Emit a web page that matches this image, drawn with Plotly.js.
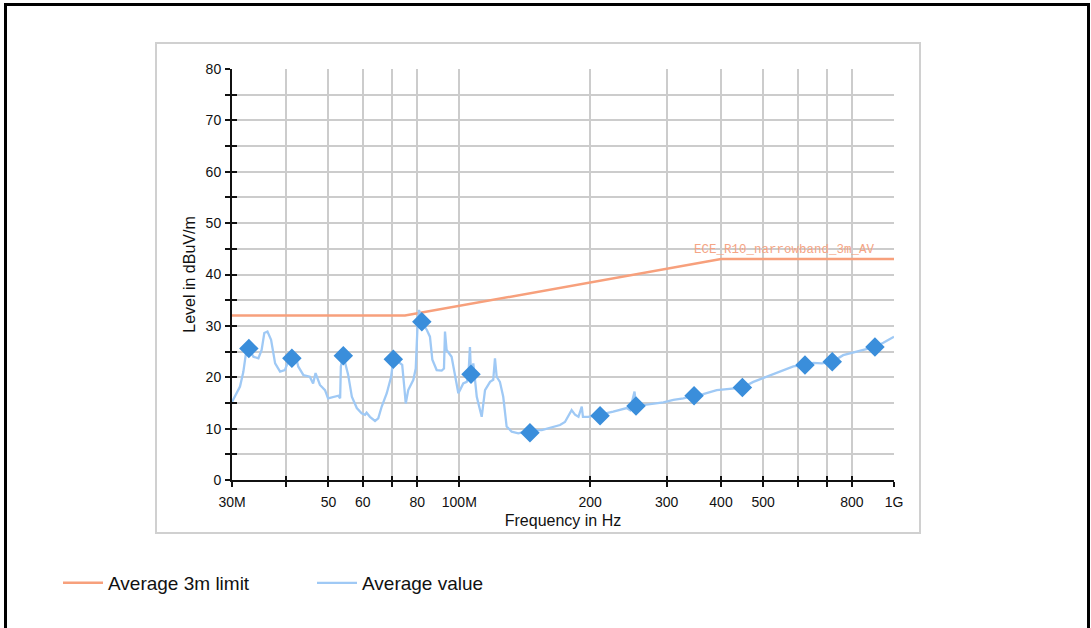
<!DOCTYPE html>
<html>
<head>
<meta charset="utf-8">
<script src="https://cdn.plot.ly/plotly-3.0.1.min.js"></script>
<style>
  html, body { margin: 0; padding: 0; background: #ffffff; overflow: hidden; }
  #chart { width: 1091px; height: 628px; }
</style>
</head>
<body>
<div id="chart"></div>
<script>
// Average value scan: frequency in MHz, level in dBuV/m
const scanFreqMHz = [
  30.0, 30.76, 31.3, 31.85, 32.26, 32.8, 33.6, 34.5, 35.1, 35.6, 36.2, 36.9, 37.7, 38.7, 39.7,
  40.8, 41.2, 41.9, 42.6, 43.8, 45.3, 46.1, 46.7, 47.8, 49.1, 49.9, 51.3, 52.7, 53.2, 53.4,
  54.1, 55.5, 56.6, 58.1, 59.6, 60.7, 61.2, 62.3, 64.0, 65.1, 66.3, 68.1, 69.7, 70.3, 70.5,
  72.4, 73.9, 74.7, 75.3, 76.3, 78.4, 79.4, 80.2, 80.8, 82.0, 84.2, 85.6, 86.7, 88.7, 91.1,
  92.2, 92.7, 93.5, 96.0, 97.7, 99.5, 100.4, 102.1, 104.0, 104.9, 105.8, 106.4, 107.7, 109.7,
  112.6, 114.6, 117.7, 119.7, 120.8, 121.9, 124.0, 126.2, 128.5, 132.0, 136.7, 141.6, 145.4,
  149.3, 154.8, 160.3, 166.0, 170.5, 175.0, 178.0, 181.3, 184.6, 188.0, 191.3, 192.5, 198.0,
  203.3, 210.8, 218.4, 226.0, 234.2, 242.7, 247.0, 253.0, 255.0, 265.0, 279.0, 294.7, 310.8,
  327.7, 346.8, 364.0, 391.0, 419.0, 447.9, 474.7, 509.5, 547.0, 586.8, 624.0, 652.0, 682.0,
  721.0, 764.0, 820.0, 850.0, 904.0, 945.0, 1000.0
];
const scanLevel = [
  15.2, 17.1, 18.2, 21.0, 24.3, 25.6, 24.0, 23.7, 25.3, 28.6, 28.9, 27.3, 22.7, 21.1, 21.4,
  24.0, 23.7, 24.7, 22.1, 20.4, 20.1, 18.8, 20.8, 18.5, 17.5, 15.9, 16.2, 16.4, 15.9, 22.1,
  24.2, 20.5, 16.2, 14.0, 13.0, 12.7, 13.1, 12.3, 11.5, 12.0, 14.3, 16.9, 20.1, 23.0, 23.5,
  23.0, 22.4, 18.2, 14.9, 17.5, 19.5, 21.7, 30.5, 33.1, 30.8, 29.2, 27.9, 23.4, 21.4, 21.3,
  21.7, 28.9, 25.3, 24.0, 20.8, 16.9, 17.5, 18.8, 19.1, 20.1, 25.9, 20.6, 22.7, 16.2,
  12.3, 17.5, 19.1, 19.5, 23.7, 20.1, 19.1, 16.2, 10.4, 9.4, 9.1, 9.4, 9.2,
  9.7, 9.7, 10.1, 10.4, 10.7, 11.3, 12.3, 13.6, 12.7, 12.3, 14.3, 12.3, 12.3,
  12.5, 12.5, 13.0, 13.3, 13.6, 14.0, 13.6, 17.2, 14.4, 14.6, 14.9, 15.1, 15.6,
  15.9, 16.4, 16.7, 17.5, 17.8, 18.0, 19.1, 20.1, 21.1, 22.1, 22.4, 22.8, 22.7,
  23.0, 24.3, 25.0, 25.4, 25.9, 26.7, 27.9
];

// Final average measurements
const finalFreqMHz = [32.8, 41.2, 54.1, 70.5, 82.0, 106.4, 145.4, 210.8, 255.0, 346.8, 447.9, 624.0, 721.0, 904.0];
const finalLevel   = [25.6, 23.7, 24.2, 23.5, 30.8, 20.6, 9.2, 12.5, 14.4, 16.4, 18.0, 22.4, 23.0, 25.9];

// ECE R10 narrowband 3 m average limit (breakpoints)
const limitFreqMHz = [30, 75, 400, 1000];
const limitLevel   = [32, 32, 43, 43];
const limitName = 'ECE_R10_narrowband_3m_AV';

// Axis ticks
const xTickMHz  = [30, 40, 50, 60, 70, 80, 100, 200, 300, 400, 500, 600, 700, 800, 1000];
const xTickText = ['30M', '', '50', '60', '', '80', '100M', '200', '300', '400', '500', '', '', '800', '1G'];
const yTickVals = [0, 5, 10, 15, 20, 25, 30, 35, 40, 45, 50, 55, 60, 65, 70, 75, 80];
const yTickText = ['0', '', '10', '', '20', '', '30', '', '40', '', '50', '', '60', '', '70', '', '80'];

const toHz = f => f * 1e6;
const xRange = [Math.log10(30e6), Math.log10(1e9)];
const yRange = [0, 80];

const sans = 'Liberation Sans, Arial, Helvetica, sans-serif';

const traces = [
  {
    name: 'Average 3m limit',
    x: limitFreqMHz.map(toHz),
    y: limitLevel,
    mode: 'lines',
    line: { color: '#f7a07c', width: 2.5 },
    hoverinfo: 'skip'
  },
  {
    name: 'Average value',
    x: scanFreqMHz.map(toHz),
    y: scanLevel,
    mode: 'lines',
    line: { color: '#9fc9f5', width: 2.3 },
    hoverinfo: 'skip'
  },
  {
    name: 'Final',
    x: finalFreqMHz.map(toHz),
    y: finalLevel,
    xaxis: 'x2',
    yaxis: 'y2',
    mode: 'markers',
    marker: { symbol: 'diamond', size: 15, color: '#3a8edb', line: { width: 0 } },
    showlegend: false,
    hoverinfo: 'skip'
  }
];

const tickX = xTickMHz.map(toHz);

// Paper-space helpers for the frame boxes
const plotL = 232, plotR = 894, plotT = 69, plotB = 480;
const px = v => (v - plotL) / (plotR - plotL);
const py = v => (plotB - v) / (plotB - plotT);

const layout = {
  width: 1091,
  height: 628,
  margin: { l: plotL, r: 1091 - plotR, t: plotT, b: 628 - plotB, pad: 0 },
  paper_bgcolor: '#ffffff',
  plot_bgcolor: '#ffffff',
  showlegend: true,
  xaxis: {
    type: 'log',
    range: xRange,
    tickmode: 'array',
    tickvals: tickX,
    ticktext: xTickText,
    ticks: 'outside',
    ticklen: 5,
    tickwidth: 2,
    tickcolor: '#111111',
    ticklabelstandoff: 3,
    showline: true,
    linecolor: '#111111',
    linewidth: 2,
    showgrid: true,
    gridcolor: '#cccccc',
    gridwidth: 2,
    zeroline: false,
    fixedrange: true,
    tickfont: { family: sans, size: 14, color: '#111111' },
    title: { text: 'Frequency in Hz', font: { family: sans, size: 16, color: '#111111' }, standoff: 6 }
  },
  yaxis: {
    range: yRange,
    tickmode: 'array',
    tickvals: yTickVals,
    ticktext: yTickText,
    ticks: 'outside',
    ticklen: 5,
    tickwidth: 2,
    tickcolor: '#111111',
    ticklabelstandoff: 1,
    showline: true,
    linecolor: '#111111',
    linewidth: 2,
    showgrid: true,
    gridcolor: '#cccccc',
    gridwidth: 2,
    zeroline: false,
    fixedrange: true,
    tickfont: { family: sans, size: 14, color: '#111111' },
    title: { text: 'Level in dBuV/m', font: { family: sans, size: 16, color: '#111111' }, standoff: 6 }
  },
  // Overlay axes: inner halves of the crossing tick marks
  xaxis2: {
    type: 'log',
    range: xRange,
    overlaying: 'x',
    anchor: 'y2',
    side: 'bottom',
    tickmode: 'array',
    tickvals: tickX,
    ticks: 'inside',
    ticklen: 4,
    tickwidth: 2,
    tickcolor: '#111111',
    showticklabels: false,
    showgrid: false,
    showline: false,
    zeroline: false,
    fixedrange: true
  },
  yaxis2: {
    range: yRange,
    overlaying: 'y',
    anchor: 'x2',
    side: 'left',
    tickmode: 'array',
    tickvals: yTickVals,
    ticks: 'inside',
    ticklen: 5,
    tickwidth: 2,
    tickcolor: '#111111',
    showticklabels: false,
    showgrid: false,
    showline: false,
    zeroline: false,
    fixedrange: true
  },
  legend: {
    orientation: 'h',
    x: px(58),
    xanchor: 'left',
    y: py(583),
    yanchor: 'middle',
    bgcolor: 'rgba(0,0,0,0)',
    borderwidth: 0,
    itemwidth: 40,
    entrywidth: 199,
    entrywidthmode: 'pixels',
    traceorder: 'normal',
    font: { family: sans, size: 19, color: '#111111' }
  },
  annotations: [
    {
      text: limitName,
      xref: 'x',
      yref: 'y',
      x: Math.log10(toHz(limitFreqMHz[limitFreqMHz.length - 1])),
      y: limitLevel[limitLevel.length - 1],
      xanchor: 'right',
      yanchor: 'bottom',
      xshift: -17,
      yshift: 0,
      showarrow: false,
      font: { family: 'Courier New, Liberation Mono, DejaVu Sans Mono, monospace', size: 12.5, color: '#f5a585' }
    }
  ],
  shapes: [
    // chart panel
    {
      type: 'rect', xref: 'paper', yref: 'paper', layer: 'below',
      x0: px(156), x1: px(920), y0: py(533), y1: py(43),
      line: { color: '#d0d0d0', width: 2 }, fillcolor: 'rgba(0,0,0,0)'
    },
    // outer page frame
    {
      type: 'rect', xref: 'paper', yref: 'paper', layer: 'below',
      x0: px(5.5), x1: px(1088.5), y0: py(660), y1: py(4.5),
      line: { color: '#000000', width: 3 }, fillcolor: 'rgba(0,0,0,0)'
    }
  ]
};

Plotly.newPlot('chart', traces, layout, { staticPlot: true, displayModeBar: false });
</script>
</body>
</html>
